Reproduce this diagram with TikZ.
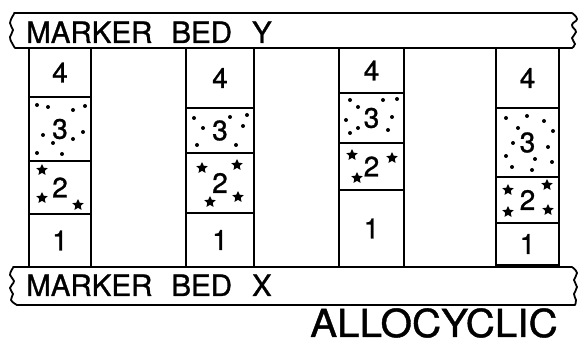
\documentclass[tikz,border=0pt]{standalone}
\usepackage{fontspec}
\setmainfont[FakeBold=1]{TeX Gyre Heros}
\usetikzlibrary{shapes.geometric}
\tikzset{
  layer/.style={draw, line width=1.6pt, inner sep=0pt, font=\fontsize{28}{28}\selectfont},
  bedline/.style={line width=1.8pt, line join=round, line cap=round},
  bedtext/.style={anchor=base west, inner sep=0pt, font=\fontsize{29.5}{29.5}\selectfont},
  starmark/.style={star, star points=5, star point ratio=2.1, minimum size=12pt, inner sep=0pt, fill=black},
  dotmark/.style={circle, fill=black, inner sep=0pt, minimum size=4pt}
}
\begin{document}
\begin{tikzpicture}[x=1pt,y=-1pt]
\useasboundingbox (0,0) rectangle (578,344);
% marker bed Y
\draw[bedline] (14,13) -- (572,13)
  plot[smooth, tension=0.8] coordinates {(572,13) (577,19) (572,25) (576,32) (572,38) (575,44) (572,48)}
  -- (15,48)
  plot[smooth, tension=0.8] coordinates {(15,48) (12,43) (10,37) (13,30) (10,23) (14,14)};
\node[bedtext] (bedy) at (26,43) {MARKER\hspace{19pt}BED\hspace{20pt}Y};
% marker bed X
\draw[bedline] (13,267) -- (572,267)
  plot[smooth, tension=0.8] coordinates {(572,267) (577,273) (574,280) (577,287) (574,294) (576,300) (575,305)}
  -- (17,305)
  plot[smooth, tension=0.8] coordinates {(17,305) (11,300) (13,294) (10,288) (14,281) (10,275) (13,268)};
\node[bedtext] (bedx) at (26,296) {MARKER\hspace{19pt}BED\hspace{20pt}X};
% column 1
\node[layer, minimum width=62pt, minimum height=49pt] (c1a) at (60,72.5) {4};
\node[layer, minimum width=62pt, minimum height=64pt] (c1b) at (60,129) {3};
\node[layer, minimum width=62pt, minimum height=53pt] (c1c) at (60,187.5) {2};
\node[layer, minimum width=62pt, minimum height=53pt] (c1d) at (60,240.5) {1};
% column 2
\node[layer, minimum width=68pt, minimum height=60pt] (c2a) at (220,78) {4};
\node[layer, minimum width=68pt, minimum height=45pt] (c2b) at (220,130.5) {3};
\node[layer, minimum width=68pt, minimum height=60pt] (c2c) at (220,183) {2};
\node[layer, minimum width=68pt, minimum height=54pt] (c2d) at (220,240) {1};
% column 3
\node[layer, minimum width=65pt, minimum height=45pt] (c3a) at (371.5,70.5) {4};
\node[layer, minimum width=65pt, minimum height=50pt] (c3b) at (371.5,118) {3};
\node[layer, minimum width=65pt, minimum height=47pt] (c3c) at (371.5,166.5) {2};
\node[layer, minimum width=65pt, minimum height=76pt] (c3d) at (371.5,228.5) {1};
% column 4
\node[layer, minimum width=63pt, minimum height=60pt] (c4a) at (527.5,78) {4};
\node[layer, minimum width=63pt, minimum height=69pt] (c4b) at (527.5,142.5) {3};
\node[layer, minimum width=63pt, minimum height=46pt] (c4c) at (527.5,200) {2};
\node[layer, minimum width=63pt, minimum height=42pt] (c4d) at (527.5,244) {1};
% dots (sand)
\foreach \p in {(37,105),(48,107),(73,110),(85,106),(43,135),(53,143),(73,139),(83,132),(37,153),(62,154),
  (194,118),(203,128),(230,117),(247,115),(243,126),(197,145),(236,145),
  (350,100),(383,100),(397,99),(358,107),(346,120),(392,117),(350,133),(358,128),(388,130),
  (506,118),(527,116),(544,121),(518,128),(553,131),(513,143),(548,147),(506,156),(535,159),(552,162),(512,167),(532,170)}
  \node[dotmark] at \p {};
% stars
\foreach \p in {(42,170),(42,198),(78,205),
  (202,168),(237,165),(210,202),(238,197),
  (352,155),(392,158),(357,178),
  (508,190),(547,185),(508,212),(548,210)}
  \node[starmark] at \p {};
% title
\node[anchor=base west, inner sep=0pt, font=\fontsize{38.5}{38.5}\selectfont, xscale=1.05] (title) at (310,337) {ALLOCYCLIC};
\end{tikzpicture}
\end{document}
